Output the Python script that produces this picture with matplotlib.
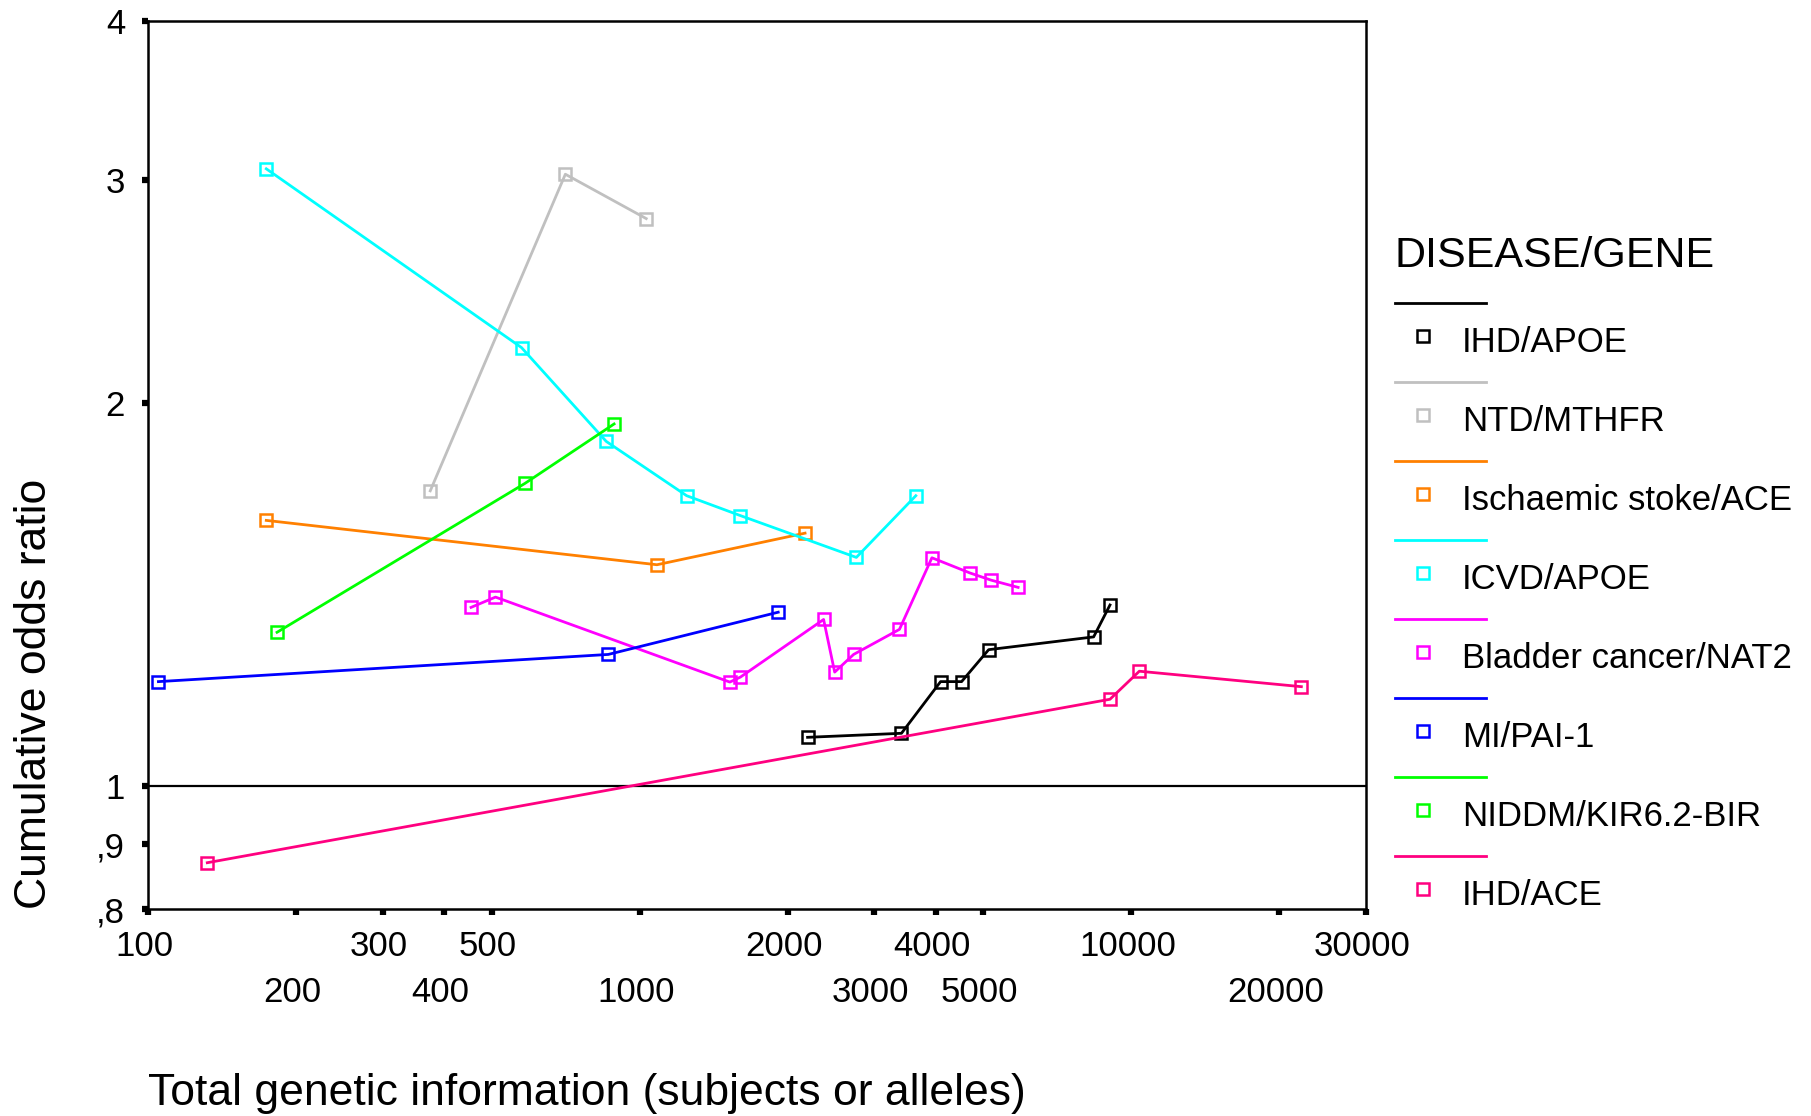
import matplotlib

matplotlib.use("Agg")
import matplotlib.pyplot as plt
import matplotlib.transforms as mtransforms
from matplotlib.lines import Line2D

plt.rcParams["font.family"] = ["Liberation Sans", "DejaVu Sans"]

# cumulative odds ratio against total genetic information, per disease/gene pair
ihd_apoe_x = [2195, 3407, 4092, 4515, 5125, 8379, 9046]
ihd_apoe_y = [1.092, 1.100, 1.208, 1.208, 1.280, 1.310, 1.388]

ntd_mthfr_x = [375, 706, 1031]
ntd_mthfr_y = [1.707, 3.03, 2.796]

stroke_ace_x = [174, 1084, 2169]
stroke_ace_y = [1.618, 1.493, 1.581]

icvd_apoe_x = [174, 575, 855, 1246, 1603, 2758, 3644]
icvd_apoe_y = [3.06, 2.213, 1.867, 1.692, 1.632, 1.513, 1.692]

bladder_nat2_x = [454, 509, 1525, 1603, 2366, 2492, 2723, 3375, 3929, 4694, 5181, 5883]
bladder_nat2_y = [1.382, 1.408, 1.207, 1.218, 1.352, 1.229, 1.269, 1.328, 1.512, 1.471, 1.452, 1.433]

mi_pai1_x = [105, 863, 1913]
mi_pai1_y = [1.208, 1.269, 1.370]

niddm_kir_x = [183, 584, 887]
niddm_kir_y = [1.321, 1.730, 1.927]

ihd_ace_x = [132, 9046, 10378, 22165]
ihd_ace_y = [0.870, 1.170, 1.231, 1.197]

series_names = ["IHD/APOE", "NTD/MTHFR", "Ischaemic stoke/ACE", "ICVD/APOE",
                "Bladder cancer/NAT2", "MI/PAI-1", "NIDDM/KIR6.2-BIR", "IHD/ACE"]
series_x = [ihd_apoe_x, ntd_mthfr_x, stroke_ace_x, icvd_apoe_x,
            bladder_nat2_x, mi_pai1_x, niddm_kir_x, ihd_ace_x]
series_y = [ihd_apoe_y, ntd_mthfr_y, stroke_ace_y, icvd_apoe_y,
            bladder_nat2_y, mi_pai1_y, niddm_kir_y, ihd_ace_y]
colors = ["#000000", "#c0c0c0", "#ff8000", "#00ffff",
          "#ff00ff", "#0000ff", "#00ff00", "#ff0080"]

x_ticks_row1 = [100, 300, 500, 2000, 4000, 10000, 30000]
x_ticks_row2 = [200, 400, 1000, 3000, 5000, 20000]
y_ticks = [0.8, 0.9, 1, 2, 3, 4]
y_tick_labels = [",8", ",9", "1", "2", "3", "4"]

W, H = 1811, 1116
fig = plt.figure(figsize=(W / 100, H / 100), dpi=100)
ax = fig.add_axes([148 / W, 1 - 909 / H, (1366 - 148) / W, (909 - 21) / H])

ax.axhline(1, color="black", lw=1.6, zorder=1)
for x, y, c in zip(series_x, series_y, colors):
    ax.plot(x, y, color=c, lw=2.0, marker="s", ms=8.5, mfc="none",
            mec=c, mew=1.8, zorder=2)

ax.set_xscale("log")
ax.set_yscale("log")
ax.set_xlim(100, 30000)
ax.set_ylim(0.8, 4)

ax.set_xticks(x_ticks_row1, [str(v) for v in x_ticks_row1])
ax.set_xticks(x_ticks_row2, [str(v) for v in x_ticks_row2], minor=True)
ax.set_yticks(y_ticks, y_tick_labels)
ax.yaxis.set_minor_locator(matplotlib.ticker.NullLocator())

ax.tick_params(axis="both", which="both", direction="out", length=4.5,
               width=4.5, color="black", labelsize=25)
ax.tick_params(axis="x", which="major", pad=10.5)
ax.tick_params(axis="x", which="minor", pad=44)
ax.tick_params(axis="y", pad=12)

# the original's x labels sit a few pixels left of their ticks
shift = mtransforms.ScaledTranslation(-4 / 100, 0, fig.dpi_scale_trans)
for lab in ax.get_xticklabels(which="both"):
    lab.set_transform(lab.get_transform() + shift)

for sp in ax.spines.values():
    sp.set_linewidth(1.8)

ax.set_xlabel("Total genetic information (subjects or alleles)", fontsize=32,
              loc="left")
ax.xaxis.set_label_coords(0, (909 - 1093) / 888)
ax.xaxis.label.set_va("center")
ax.set_ylabel("Cumulative odds ratio", fontsize=32, loc="bottom")
ax.yaxis.set_label_coords((35 - 148) / 1218, 0)
ax.yaxis.label.set_va("center")

# SPSS-style legend: line sample above, square marker beside the name
fig.text(1395 / W, 1 - 266.7 / H, "DISEASE/GENE", fontsize=31,
         ha="left", va="baseline")
for i, (name, c) in enumerate(zip(series_names, colors)):
    ly = 1 - (303.3 + 79 * i) / H
    fig.add_artist(Line2D([1395 / W, 1486 / W], [ly, ly], color=c, lw=2.0))
    my = 1 - (335.7 + 79 * i) / H
    fig.add_artist(Line2D([1422.7 / W], [my], marker="s", ms=8.5, mfc="none",
                          mec=c, mew=1.8, ls="none"))
    fig.text(1461.7 / W, 1 - (351.7 + 79 * i) / H, name, fontsize=25,
             ha="left", va="baseline")

fig.savefig("out.png", dpi=100)
